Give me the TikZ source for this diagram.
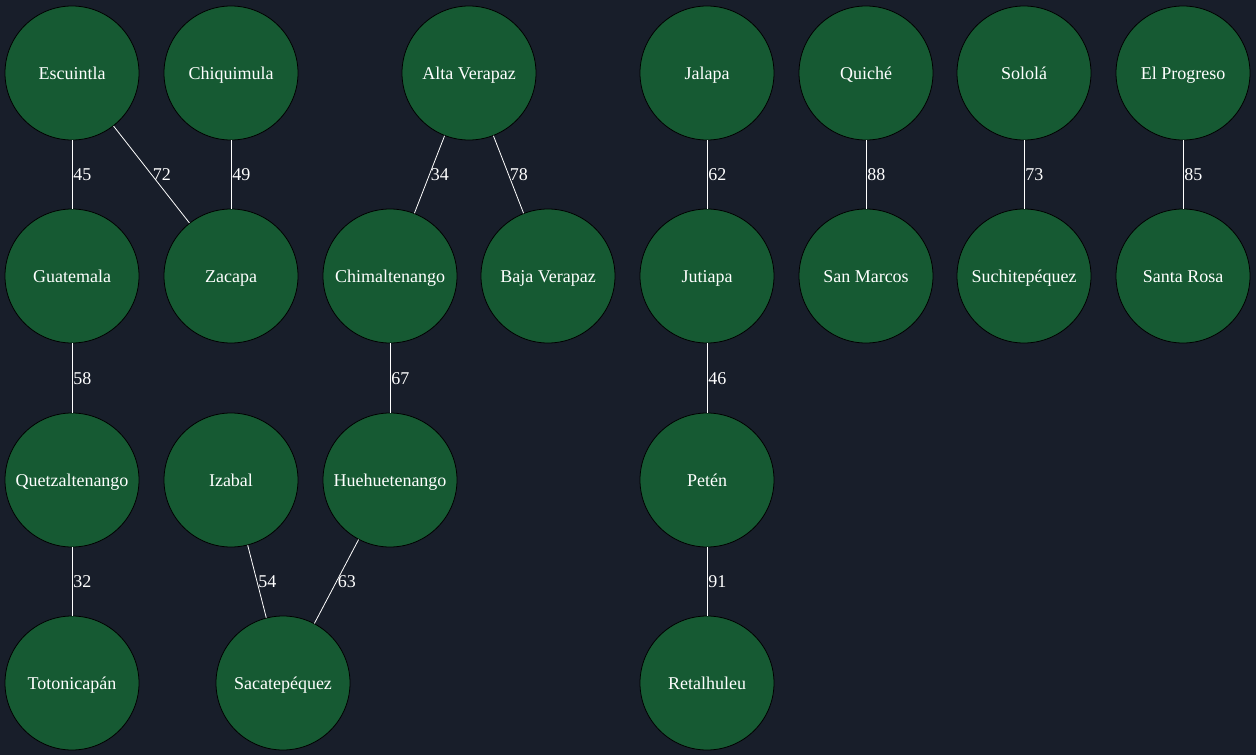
\documentclass[tikz,border=0pt]{standalone}
\usepackage{fontspec}
\setmainfont{Liberation Serif}
\definecolor{bg}{HTML}{181E2A}
\definecolor{nodefill}{HTML}{165A33}
\begin{document}
\begin{tikzpicture}[x=1pt,y=-1pt,
  dept/.style={circle, draw=black, line width=0.8pt, fill=nodefill, minimum size=134pt, inner sep=0pt, text=white, text height=13pt, text depth=1pt, font=\fontsize{18}{21}\selectfont},
  link/.style={draw=white, line width=0.8pt},
  wt/.style={right, inner sep=1pt, text=white, text height=13pt, text depth=1pt, font=\fontsize{18}{21}\selectfont}]
\fill[bg] (0,0) rectangle (1256,755);
\useasboundingbox (0,0) rectangle (1256,755);
% row 1
\node[dept] (esc) at (72,73) {Escuintla};
\node[dept] (chi) at (231,73) {Chiquimula};
\node[dept] (alt) at (469,73) {Alta Verapaz};
\node[dept] (jal) at (707,73) {Jalapa};
\node[dept] (qui) at (866,73) {Quiché};
\node[dept] (sol) at (1024,73) {Sololá};
\node[dept] (elp) at (1183,73) {El Progreso};
% row 2
\node[dept] (gua) at (72,276) {Guatemala};
\node[dept] (zac) at (231,276) {Zacapa};
\node[dept] (chm) at (390,276) {Chimaltenango};
\node[dept] (baj) at (548,276) {Baja Verapaz};
\node[dept] (jut) at (707,276) {Jutiapa};
\node[dept] (sma) at (866,276) {San Marcos};
\node[dept] (suc) at (1024,276) {Suchitepéquez};
\node[dept] (sro) at (1183,276) {Santa Rosa};
% row 3
\node[dept] (que) at (72,480) {Quetzaltenango};
\node[dept] (iza) at (231,480) {Izabal};
\node[dept] (hue) at (390,480) {Huehuetenango};
\node[dept] (pet) at (707,480) {Petén};
% row 4
\node[dept] (tot) at (72,683) {Totonicapán};
\node[dept] (sac) at (283,683) {Sacatepéquez};
\node[dept] (ret) at (707,683) {Retalhuleu};
% edges
\draw[link] (esc) -- node[wt]{45} (gua);
\draw[link] (esc) -- node[wt]{72} (zac);
\draw[link] (chi) -- node[wt]{49} (zac);
\draw[link] (alt) -- node[wt]{34} (chm);
\draw[link] (alt) -- node[wt]{78} (baj);
\draw[link] (jal) -- node[wt]{62} (jut);
\draw[link] (qui) -- node[wt]{88} (sma);
\draw[link] (sol) -- node[wt]{73} (suc);
\draw[link] (elp) -- node[wt]{85} (sro);
\draw[link] (gua) -- node[wt]{58} (que);
\draw[link] (chm) -- node[wt]{67} (hue);
\draw[link] (jut) -- node[wt]{46} (pet);
\draw[link] (que) -- node[wt]{32} (tot);
\draw[link] (iza) -- node[wt]{54} (sac);
\draw[link] (hue) -- node[wt]{63} (sac);
\draw[link] (pet) -- node[wt]{91} (ret);
\end{tikzpicture}
\end{document}
